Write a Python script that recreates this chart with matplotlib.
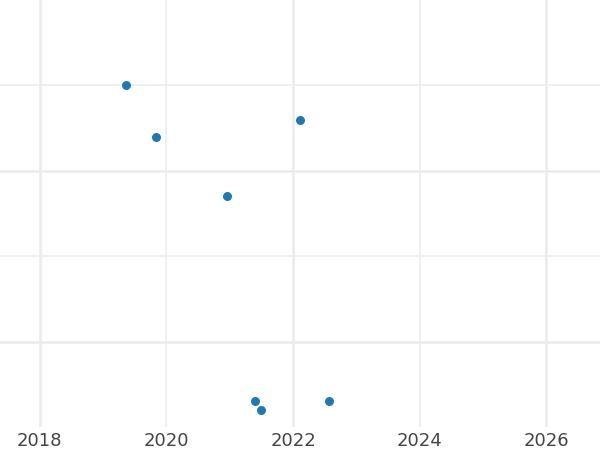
import numpy as np
import matplotlib.pyplot as plt

# data (x in fractional years, y in arbitrary units)
years = [2019.36, 2019.83, 2022.11, 2020.96, 2021.40, 2021.49, 2022.57]
values = [4.0, 3.40, 3.60, 2.70, 0.30, 0.20, 0.30]
x_ticks = [2018, 2020, 2022, 2024, 2026]

fig = plt.figure(figsize=(6, 4.5), dpi=100)
ax = fig.add_axes([0, 23 / 450, 1, 427 / 450])

ax.scatter(years, values, s=42, color='#1f77b4', zorder=3, linewidths=0)

ax.set_xlim(2017.37, 2026.85)
ax.set_ylim(0, 5)

# grid: heavier lines every 4 years / 2 units, lighter in between
for yr in x_ticks:
    lw = 1.8 if (yr - 2018) % 4 == 0 else 1.1
    ax.axvline(yr, color='#ebebeb', lw=lw, zorder=0)
for yv in [1, 2, 3, 4]:
    lw = 1.8 if yv % 2 == 1 else 1.1
    ax.axhline(yv, color='#ebebeb', lw=lw, zorder=0)

ax.set_xticks(x_ticks)
ax.set_xticklabels([str(t) for t in x_ticks])
ax.set_yticks([])
ax.tick_params(axis='x', length=0, pad=3.5, labelsize=13, labelcolor='#444444')
for s in ax.spines.values():
    s.set_visible(False)

fig.savefig('out.png', dpi=100)
